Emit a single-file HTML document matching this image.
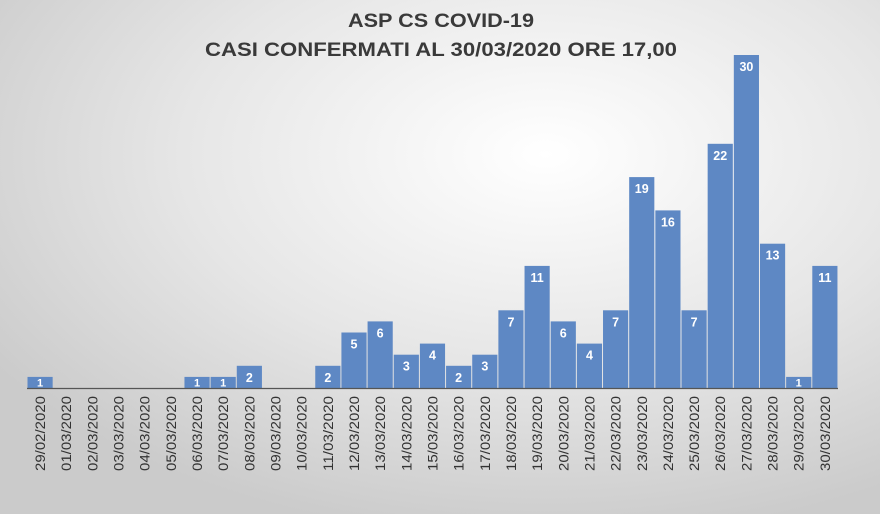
<!DOCTYPE html>
<html><head><meta charset="utf-8"><style>
html,body{margin:0;padding:0;width:880px;height:514px;overflow:hidden}
svg{display:block}
</style></head><body>
<svg id="s" width="880" height="514" xmlns="http://www.w3.org/2000/svg">
<defs>
<radialGradient id="bg" cx="0.62" cy="0.3" r="0.75">
<stop offset="0" stop-color="#ffffff"/>
<stop offset="0.55" stop-color="#e6e6e6"/>
<stop offset="1" stop-color="#cbcbcb"/>
</radialGradient>
</defs>
<rect width="880" height="514" fill="url(#bg)"/>
<text x="441" y="27" text-anchor="middle" font-family="Liberation Sans, sans-serif" font-weight="bold" font-size="19" fill="#3a3a3a" textLength="186" lengthAdjust="spacingAndGlyphs">ASP CS COVID-19</text>
<text x="441" y="56" text-anchor="middle" font-family="Liberation Sans, sans-serif" font-weight="bold" font-size="19" fill="#3a3a3a" textLength="472" lengthAdjust="spacingAndGlyphs">CASI CONFERMATI AL 30/03/2020 ORE 17,00</text>
<g id="g"></g>
</svg>
<script>
var d=[1,0,0,0,0,0,1,1,2,0,0,2,5,6,3,4,2,3,7,11,6,4,7,19,16,7,22,30,13,1,11];
var lab=["29/02/2020"];for(var i=1;i<=30;i++)lab.push((i<10?"0":"")+i+"/03/2020");
var x0=27,w=26.16,base=388,u=11.1,h="";
d.forEach(function(v,i){var x=x0+i*w;
 if(v>0){var t=base-v*u;
  h+='<rect x="'+(x+0.5)+'" y="'+t+'" width="'+(w-1)+'" height="'+(v*u)+'" fill="#5e88c4"/>';
  var ty=v==1?base-1.5:t+16;
  h+='<text x="'+(x+w/2)+'" y="'+ty+'" text-anchor="middle" font-family="Liberation Sans, sans-serif" font-weight="bold" font-size="'+(v==1?11:12.5)+'" fill="#fff">'+v+'</text>';}
 var cx=x+w/2+5;
 h+='<text transform="translate('+cx+',396) rotate(-90)" text-anchor="end" font-family="Liberation Sans, sans-serif" font-size="13.5" fill="#333" textLength="75" lengthAdjust="spacingAndGlyphs">'+lab[i]+'</text>';
});
h+='<line x1="27" y1="388.5" x2="838" y2="388.5" stroke="#555" stroke-width="1.2"/>';
document.getElementById("g").innerHTML=h;
</script>
</body></html>
